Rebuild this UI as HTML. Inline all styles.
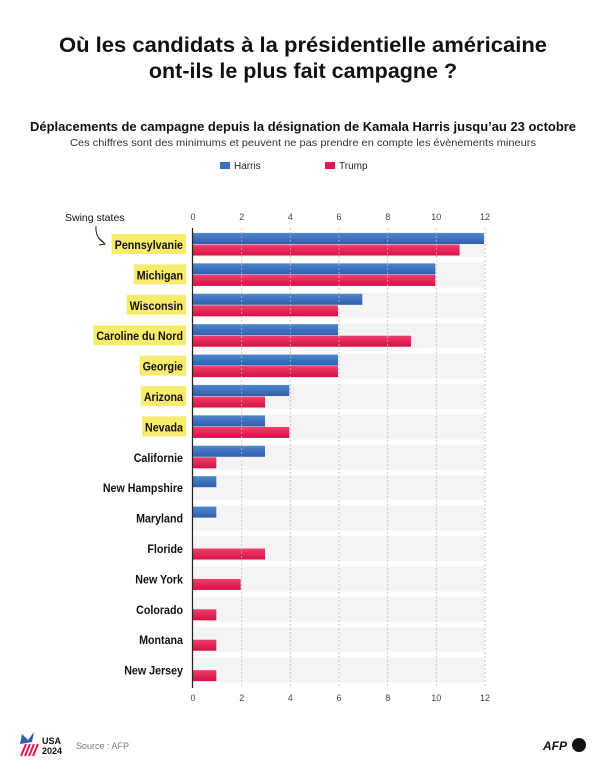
<!DOCTYPE html>
<html><head><meta charset="utf-8"><style>
body{margin:0;background:#fff;}
svg text{font-family:"Liberation Sans",sans-serif;}
</style></head><body>
<svg id="sv" width="606" height="768" viewBox="0 0 606 768" xmlns="http://www.w3.org/2000/svg">
<defs>
<linearGradient id="hb" x1="0" y1="0" x2="0" y2="1"><stop offset="0" stop-color="#4f86cc"/><stop offset="1" stop-color="#2d5fae"/></linearGradient>
<linearGradient id="tb" x1="0" y1="0" x2="0" y2="1"><stop offset="0" stop-color="#f0406a"/><stop offset="1" stop-color="#d50f45"/></linearGradient>
</defs>
<text x="303" y="52" text-anchor="middle" font-size="21.5" font-weight="bold" fill="#111" textLength="488" lengthAdjust="spacingAndGlyphs">Où les candidats à la présidentielle américaine</text>
<text x="303" y="78" text-anchor="middle" font-size="21.5" font-weight="bold" fill="#111">ont-ils le plus fait campagne ?</text>
<text x="303" y="131" text-anchor="middle" font-size="12.5" font-weight="bold" fill="#111" textLength="546" lengthAdjust="spacingAndGlyphs">Déplacements de campagne depuis la désignation de Kamala Harris jusqu’au 23 octobre</text>
<text x="303" y="146" text-anchor="middle" font-size="10.5" fill="#333" textLength="466" lengthAdjust="spacingAndGlyphs">Ces chiffres sont des minimums et peuvent ne pas prendre en compte les évènements mineurs</text>
<rect x="220" y="162" width="10" height="7" fill="#3a6fbf"/><text x="234" y="169" font-size="10" fill="#222">Harris</text>
<rect x="325" y="162" width="10" height="7" fill="#e0174f"/><text x="339" y="169" font-size="10" fill="#222">Trump</text>
<text x="65" y="221" font-size="10.5" fill="#111">Swing states</text>
<path d="M96 226 Q95 237 104 243" fill="none" stroke="#222" stroke-width="1"/><path d="M100 239 L105 244 L99 245" fill="none" stroke="#222" stroke-width="1"/>
<g font-size="9" fill="#444" text-anchor="middle">
<text x="193" y="220">0</text><text x="241.7" y="220">2</text><text x="290.3" y="220">4</text><text x="339" y="220">6</text><text x="387.7" y="220">8</text><text x="436.3" y="220">10</text><text x="485" y="220">12</text>
<text x="193" y="701">0</text><text x="241.7" y="701">2</text><text x="290.3" y="701">4</text><text x="339" y="701">6</text><text x="387.7" y="701">8</text><text x="436.3" y="701">10</text><text x="485" y="701">12</text>
</g>
<g id="rows"></g>
<g stroke="#bbb" stroke-width="0.8" stroke-dasharray="2,2">
<line x1="241.7" y1="228" x2="241.7" y2="688"/><line x1="290.3" y1="228" x2="290.3" y2="688"/><line x1="339" y1="228" x2="339" y2="688"/><line x1="387.7" y1="228" x2="387.7" y2="688"/><line x1="436.3" y1="228" x2="436.3" y2="688"/><line x1="485" y1="228" x2="485" y2="688"/>
</g>
<line x1="192.5" y1="228" x2="192.5" y2="688" stroke="#222" stroke-width="1.2"/>
<g transform="translate(18,732)">
<polygon points="4,2 10,8 16,0 14,10 2,12" fill="#2d5fae"/>
<path d="M3 24 L8 12 M7 24 L12 12 M11 24 L16 12 M15 24 L20 12" stroke="#e0174f" stroke-width="2"/>
<text x="24" y="12" font-size="9" font-weight="bold" fill="#111">USA</text>
<text x="24" y="22" font-size="9" font-weight="bold" fill="#111">2024</text>
</g>
<text x="76" y="749" font-size="9" fill="#777">Source : AFP</text>
<text x="543" y="750" font-size="12" font-weight="bold" font-style="italic" fill="#111">AFP</text>
<circle cx="579" cy="745" r="7" fill="#111"/>
</svg>
<script>
var d=[["Pennsylvanie",12,11,1],["Michigan",10,10,1],["Wisconsin",7,6,1],["Caroline du Nord",6,9,1],["Georgie",6,6,1],["Arizona",4,3,1],["Nevada",3,4,1],["Californie",3,1,0],["New Hampshire",1,0,0],["Maryland",1,0,0],["Floride",0,3,0],["New York",0,2,0],["Colorado",0,1,0],["Montana",0,1,0],["New Jersey",0,1,0]];
var NS="http://www.w3.org/2000/svg",g=document.getElementById("rows"),u=24.33,k=0.93;
function el(t,a){var e=document.createElementNS(NS,t);for(var n in a)e.setAttribute(n,a[n]);g.appendChild(e);return e;}
d.forEach(function(r,i){var y=233+i*30.4;
el("rect",{x:192,y:y-1,width:293,height:25,fill:"#f4f4f4"});
var hl=r[3]?el("rect",{x:0,y:y+1,width:0,height:20,fill:"#f7ec6b"}):null;
var t=el("text",{x:0,y:0,"text-anchor":"end","font-size":"11.5","font-weight":"bold",fill:"#111",transform:"translate(183,"+(y+16)+") scale("+k+",1)"});
t.textContent=r[0];
if(hl){var w=t.getComputedTextLength()*k;hl.setAttribute("x",186-w-6);hl.setAttribute("width",w+6);}
if(r[1])el("rect",{x:192,y:y,width:r[1]*u,height:11,fill:"url(#hb)"});
if(r[2])el("rect",{x:192,y:y+11.5,width:r[2]*u,height:11,fill:"url(#tb)"});
});
</script>
</body></html>
